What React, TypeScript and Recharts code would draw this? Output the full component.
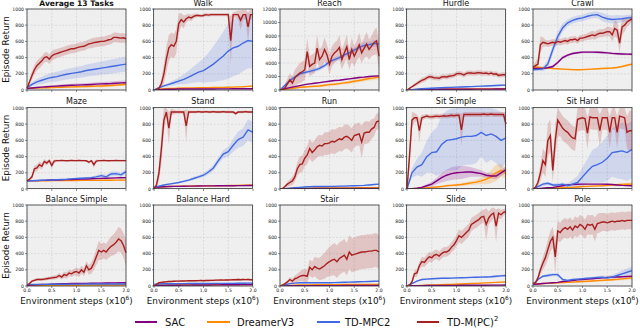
import React from 'react';
import { ComposedChart, Line, Area, XAxis, YAxis, CartesianGrid } from 'recharts';

// ---------- x values ----------
const X_FINE = [0, 0.05, 0.1, 0.15, 0.2, 0.25, 0.3, 0.35, 0.4, 0.45, 0.5, 0.55, 0.6, 0.65, 0.7, 0.75, 0.8, 0.85, 0.9, 0.95, 1.0,
  1.05, 1.1, 1.15, 1.2, 1.25, 1.3, 1.35, 1.4, 1.45, 1.5, 1.55, 1.6, 1.65, 1.7, 1.75, 1.8, 1.85, 1.9, 1.95, 2.0];
const X_TICKS = [0, 0.5, 1, 1.5, 2];
const Y_TICKS_1K = [0, 200, 400, 600, 800, 1000];
const Y_TICKS_12K = [0, 2000, 4000, 6000, 8000, 10000, 12000];

const SERIES_NAMES = ['SAC', 'DreamerV3', 'TD-MPC2', 'TD-M(PC)'];
const TITLES = ['Average 13 Tasks', 'Walk', 'Reach', 'Hurdle', 'Crawl', 'Maze', 'Stand', 'Run', 'Sit Simple', 'Sit Hard',
  'Balance Simple', 'Balance Hard', 'Stair', 'Slide', 'Pole'];

const THIN_BAND = [0, 3, 4, 5, 5, 5, 5, 5, 5, 5, 6, 6, 6, 6, 6, 6, 6, 7, 7, 7, 7];

// ---------- Average 13 Tasks ----------
const avgRed = [20, 100, 180, 250, 300, 330, 360, 400, 410, 380, 420, 440, 450, 460, 470, 480, 490, 500, 510, 510, 520, 530, 535, 540, 555, 570, 575, 585, 590, 595, 600, 600, 610, 620, 625, 650, 650, 645, 640, 645, 630];
const avgRedBand = [10, 30, 50, 60, 60, 60, 60, 60, 60, 60, 60, 60, 55, 55, 55, 55, 55, 55, 55, 55, 55, 55, 55, 55, 55, 55, 60, 60, 60, 60, 60, 60, 60, 60, 60, 60, 60, 60, 60, 60, 60];
const avgBlue = [30, 70, 100, 120, 140, 155, 165, 180, 195, 205, 215, 225, 240, 250, 260, 270, 280, 290, 300, 310, 320];
const avgBlueBand = [10, 25, 35, 45, 50, 55, 60, 62, 65, 68, 70, 72, 75, 78, 80, 82, 85, 88, 90, 92, 95];
const avgSac = [20, 25, 30, 35, 40, 45, 48, 52, 55, 58, 60, 63, 65, 68, 72, 75, 78, 80, 84, 88, 90];
const avgSacBand = [5, 8, 10, 12, 14, 15, 16, 17, 18, 19, 20, 20, 21, 22, 23, 24, 25, 25, 26, 27, 28];
const avgDreamer = [20, 22, 24, 26, 28, 30, 32, 34, 36, 38, 40, 42, 44, 46, 48, 50, 53, 56, 60, 65, 70];
const avgDreamerBand = [5, 6, 7, 8, 9, 10, 10, 11, 11, 12, 12, 13, 13, 14, 14, 15, 15, 16, 16, 17, 18];

// ---------- Walk ----------
const walkRed = [0, 5, 20, 80, 200, 380, 520, 560, 540, 600, 820, 870, 840, 880, 900, 890, 910, 920, 920, 915, 920, 930, 925, 930, 930, 930, 930, 930, 930, 930, 930, 610, 930, 930, 930, 860, 930, 930, 780, 930, 930];
const walkRedBand = [0, 5, 20, 60, 120, 160, 160, 150, 150, 150, 120, 80, 80, 50, 40, 40, 30, 25, 20, 20, 20, 20, 20, 20, 20, 20, 20, 20, 20, 20, 20, 300, 30, 40, 50, 120, 60, 60, 180, 60, 60];
const walkBlue = [0, 30, 50, 70, 90, 110, 130, 160, 190, 220, 240, 280, 320, 370, 420, 480, 520, 540, 580, 610, 600];
const walkBlueBand = [0, 10, 15, 20, 30, 40, 60, 80, 100, 120, 150, 180, 220, 260, 300, 340, 350, 350, 350, 340, 330];
const walkSac = [0, 5, 8, 10, 10, 12, 12, 12, 12, 12, 13, 13, 13, 14, 14, 14, 15, 15, 15, 15, 15];
const walkDreamer = [0, 10, 15, 18, 20, 22, 24, 25, 26, 27, 28, 28, 30, 30, 32, 34, 36, 38, 40, 45, 50];

// ---------- Reach ----------
const reachRed = [0, 100, 300, 900, 1500, 1000, 1800, 2200, 2500, 2700, 3000, 5700, 3500, 3800, 4000, 6200, 4500, 5000, 6000, 5200, 3800, 5000, 5500, 5800, 6300, 4500, 5500, 6400, 4500, 6000, 5000, 5800, 6700, 5500, 6200, 6800, 6000, 6500, 7000, 7300, 5000];
const reachRedBand = [0, 200, 500, 800, 1000, 1000, 1200, 1300, 1500, 1500, 1500, 2000, 1500, 1500, 1500, 2000, 1500, 1500, 1800, 1500, 1500, 1500, 1500, 1500, 1800, 1500, 1500, 1800, 1500, 1800, 1500, 1500, 1800, 1500, 1500, 1800, 1500, 1500, 1800, 2000, 2000];
const reachBlue = [0, 700, 1400, 1900, 2400, 2600, 2750, 2950, 3200, 3600, 4200, 4500, 4800, 5200, 5500, 5900, 6300, 6600, 6700, 6900, 6800];
const reachBlueBand = [0, 200, 300, 300, 300, 300, 300, 300, 300, 300, 300, 300, 300, 300, 400, 400, 400, 500, 500, 500, 500];
const reachSac = [0, 200, 350, 500, 650, 800, 900, 1000, 1100, 1200, 1300, 1400, 1450, 1550, 1650, 1750, 1850, 1900, 2000, 2050, 2100];
const reachSacBand = [0, 50, 60, 70, 80, 90, 100, 100, 100, 100, 100, 100, 100, 100, 100, 100, 100, 100, 100, 100, 100];
const reachDreamer = [0, 100, 200, 300, 400, 450, 500, 550, 600, 700, 800, 850, 950, 1050, 1150, 1300, 1400, 1550, 1700, 1800, 1900];
const reachDreamerBand = [0, 100, 100, 150, 150, 150, 150, 150, 200, 200, 200, 200, 200, 200, 250, 250, 250, 300, 300, 300, 350];

// ---------- Hurdle ----------
const hurdleRed = [0, 20, 40, 60, 80, 100, 120, 130, 150, 165, 160, 150, 150, 145, 160, 165, 160, 170, 175, 180, 200, 205, 200, 185, 205, 210, 210, 205, 210, 215, 210, 205, 210, 200, 210, 195, 200, 180, 185, 190, 185];
const hurdleRedBand = [0, 10, 15, 20, 25, 25, 30, 30, 30, 30, 30, 30, 30, 30, 30, 30, 30, 30, 30, 30, 30, 30, 30, 30, 30, 30, 30, 30, 30, 30, 30, 30, 30, 30, 30, 30, 30, 30, 30, 30, 30];
const hurdleBlue = [0, 5, 10, 15, 18, 22, 25, 27, 30, 32, 35, 37, 40, 42, 45, 48, 50, 52, 55, 58, 60];
const hurdleBlueBand = [0, 3, 4, 5, 6, 6, 7, 7, 8, 8, 8, 8, 8, 8, 9, 9, 9, 10, 10, 10, 10];
const hurdleSac = [0, 3, 5, 6, 7, 8, 8, 9, 9, 10, 10, 10, 10, 10, 11, 11, 11, 11, 12, 12, 12];
const hurdleDreamer = [0, 5, 8, 10, 10, 11, 11, 12, 12, 12, 12, 13, 13, 13, 13, 14, 14, 14, 15, 15, 15];

// ---------- Crawl ----------
const crawlRed = [280, 300, 320, 560, 590, 580, 570, 580, 590, 580, 600, 590, 600, 610, 600, 620, 620, 630, 610, 640, 640, 650, 660, 670, 680, 670, 690, 700, 700, 710, 720, 720, 680, 760, 740, 580, 780, 800, 840, 860, 880];
const crawlRedBand = [20, 50, 80, 100, 60, 40, 40, 40, 40, 40, 40, 40, 40, 40, 40, 40, 40, 40, 40, 40, 40, 40, 40, 50, 50, 50, 50, 50, 50, 50, 60, 60, 80, 100, 100, 120, 100, 80, 60, 50, 40];
const crawlBlue = [250, 255, 260, 320, 500, 660, 770, 830, 860, 880, 890, 910, 925, 930, 900, 880, 870, 875, 880, 890, 890];
const crawlBlueBand = [20, 20, 30, 50, 60, 60, 50, 40, 40, 40, 40, 40, 40, 40, 50, 50, 50, 50, 40, 40, 40];
const crawlSac = [265, 265, 268, 275, 290, 340, 400, 430, 450, 460, 467, 468, 468, 466, 463, 458, 452, 448, 445, 443, 442];
const crawlSacBand = [15, 15, 15, 15, 20, 20, 20, 15, 15, 15, 15, 15, 15, 15, 15, 15, 15, 15, 15, 15, 15];
const crawlDreamer = [285, 280, 275, 270, 265, 262, 258, 255, 252, 250, 252, 255, 258, 262, 265, 268, 272, 278, 290, 305, 320];
const crawlDreamerBand = [10, 10, 10, 10, 10, 10, 10, 10, 10, 10, 10, 10, 10, 10, 10, 10, 12, 12, 12, 15, 15];

// ---------- Maze ----------
const mazeRed = [100, 120, 150, 250, 260, 300, 280, 340, 320, 350, 290, 345, 350, 350, 352, 350, 348, 350, 352, 350, 350, 352, 350, 350, 348, 330, 350, 300, 345, 350, 350, 352, 350, 348, 350, 350, 352, 350, 350, 350, 350];
const mazeRedBand = [5, 15, 30, 40, 40, 40, 40, 30, 30, 20, 40, 20, 15, 10, 10, 10, 10, 10, 10, 10, 10, 10, 10, 10, 10, 20, 10, 40, 20, 10, 10, 10, 10, 10, 10, 10, 10, 10, 10, 10, 10];
const mazeBlue = [100, 102, 105, 108, 110, 112, 115, 118, 120, 125, 130, 133, 136, 140, 150, 165, 150, 185, 190, 175, 215];
const mazeBlueBand = [2, 3, 3, 4, 4, 5, 5, 6, 6, 7, 8, 10, 12, 14, 20, 25, 25, 30, 30, 30, 30];
const mazeSac = [100, 103, 104, 107, 108, 111, 112, 115, 116, 118, 121, 122, 124, 127, 128, 131, 132, 134, 137, 138, 140];
const mazeDreamer = [100, 100, 101, 101, 102, 103, 103, 104, 104, 105, 105, 106, 106, 107, 107, 108, 108, 108, 109, 109, 110];

// ---------- Stand ----------
const standRed = [0, 50, 200, 500, 850, 950, 750, 950, 950, 950, 950, 950, 950, 780, 950, 950, 950, 950, 955, 950, 950, 955, 950, 950, 955, 950, 950, 950, 955, 950, 950, 950, 950, 930, 950, 950, 950, 955, 950, 950, 950];
const standRedBand = [0, 30, 100, 200, 150, 60, 200, 40, 30, 20, 20, 20, 20, 200, 20, 15, 15, 15, 15, 15, 15, 15, 15, 15, 15, 15, 15, 15, 15, 15, 15, 15, 15, 20, 15, 15, 15, 15, 15, 15, 15];
const standBlue = [20, 35, 50, 60, 70, 80, 95, 110, 130, 150, 170, 210, 260, 350, 430, 460, 540, 610, 640, 730, 700];
const standBlueBand = [5, 8, 10, 10, 10, 10, 12, 15, 20, 20, 25, 30, 35, 40, 50, 60, 80, 100, 110, 130, 130];
const standSac = [20, 25, 28, 30, 32, 33, 34, 35, 36, 37, 38, 38, 39, 40, 40, 41, 41, 42, 42, 43, 43];
const standDreamer = [20, 25, 28, 30, 32, 34, 35, 36, 37, 38, 38, 39, 40, 41, 42, 43, 44, 45, 46, 48, 50];

// ---------- Run ----------
const runRed = [0, 5, 30, 60, 80, 100, 150, 250, 300, 310, 380, 420, 500, 450, 480, 520, 540, 530, 560, 560, 570, 590, 580, 600, 620, 610, 640, 650, 630, 600, 660, 670, 680, 580, 690, 700, 700, 740, 760, 830, 840];
const runRedBand = [0, 5, 20, 30, 40, 50, 60, 80, 100, 100, 100, 110, 120, 120, 120, 130, 130, 130, 140, 140, 140, 150, 150, 150, 150, 150, 150, 150, 150, 150, 140, 140, 140, 200, 140, 140, 130, 120, 110, 100, 100];
const runBlue = [0, 5, 10, 15, 20, 25, 28, 30, 30, 30, 32, 33, 35, 36, 38, 40, 42, 45, 50, 55, 60];
const runSac = [0, 2, 3, 4, 5, 5, 5, 6, 6, 6, 6, 7, 7, 7, 7, 8, 8, 8, 8, 8, 8];
const runDreamer = [0, 5, 8, 10, 10, 11, 11, 12, 12, 12, 13, 13, 13, 14, 14, 14, 15, 15, 15, 16, 16];

// ---------- Sit Simple ----------
const sitSimpleRed = [0, 400, 850, 880, 880, 720, 880, 890, 900, 890, 890, 895, 900, 895, 900, 905, 900, 905, 910, 905, 910, 910, 730, 920, 920, 920, 920, 920, 920, 920, 920, 925, 920, 920, 925, 920, 920, 920, 920, 920, 800];
const sitSimpleRedBand = [0, 150, 100, 60, 40, 150, 40, 30, 30, 30, 30, 30, 30, 30, 30, 30, 30, 30, 30, 30, 30, 30, 200, 30, 30, 30, 30, 30, 30, 30, 30, 30, 30, 30, 30, 30, 30, 30, 30, 30, 150];
const sitSimpleBlue = [0, 200, 270, 300, 400, 450, 460, 550, 600, 610, 620, 640, 650, 650, 660, 700, 660, 680, 650, 600, 630];
const sitSimpleBlueBand = [0, 60, 100, 150, 200, 250, 300, 350, 370, 380, 390, 360, 350, 350, 340, 300, 340, 320, 330, 350, 300];
const sitSimpleSac = [0, 5, 10, 20, 40, 60, 100, 140, 170, 190, 200, 205, 210, 210, 200, 190, 170, 160, 160, 200, 240];
const sitSimpleSacBand = [0, 5, 10, 15, 20, 30, 40, 60, 70, 80, 80, 80, 70, 60, 50, 40, 30, 30, 40, 40, 40];
const sitSimpleDreamer = [0, 5, 8, 12, 15, 20, 25, 30, 40, 45, 50, 55, 65, 75, 85, 100, 120, 150, 200, 230, 190];
const sitSimpleDreamerBand = [0, 3, 5, 5, 5, 8, 10, 10, 12, 15, 15, 18, 20, 25, 30, 40, 60, 80, 100, 80, 60];

// ---------- Sit Hard ----------
const sitHardRed = [0, 20, 80, 200, 350, 300, 600, 660, 230, 600, 850, 800, 750, 720, 700, 660, 630, 620, 860, 870, 880, 870, 690, 890, 880, 880, 880, 720, 880, 880, 880, 700, 880, 880, 700, 900, 890, 880, 700, 720, 720];
const sitHardRedBand = [0, 20, 50, 100, 150, 150, 200, 200, 150, 200, 200, 150, 150, 150, 150, 150, 150, 150, 150, 150, 150, 150, 200, 150, 150, 150, 150, 200, 150, 150, 150, 200, 150, 150, 200, 150, 150, 150, 200, 250, 250];
const sitHardBlue = [0, 30, 60, 70, 50, 50, 60, 40, 60, 80, 150, 220, 280, 300, 330, 380, 450, 460, 470, 450, 490];
const sitHardBlueBand = [0, 10, 20, 20, 20, 20, 20, 30, 50, 80, 120, 150, 200, 220, 250, 280, 300, 330, 350, 350, 350];
const sitHardSac = [0, 5, 10, 15, 20, 30, 40, 50, 55, 58, 60, 60, 60, 60, 60, 58, 55, 50, 45, 42, 40];
const sitHardDreamer = [0, 3, 5, 8, 10, 12, 15, 18, 20, 25, 30, 32, 35, 38, 40, 45, 50, 52, 55, 58, 60];
const sitHardDreamerBand = [0, 2, 3, 4, 5, 5, 6, 6, 7, 8, 8, 9, 10, 10, 12, 12, 14, 15, 16, 18, 20];

// ---------- Balance Simple ----------
const balSimpleRed = [0, 30, 60, 70, 80, 80, 80, 85, 90, 95, 100, 105, 110, 130, 110, 140, 130, 160, 150, 170, 180, 160, 200, 170, 250, 200, 220, 280, 360, 440, 420, 440, 420, 460, 490, 510, 540, 580, 560, 500, 410];
const balSimpleRedBand = [0, 10, 15, 15, 15, 15, 15, 20, 20, 20, 20, 25, 25, 30, 30, 40, 40, 40, 40, 40, 50, 50, 50, 50, 60, 60, 70, 80, 100, 120, 100, 100, 100, 110, 120, 130, 140, 150, 150, 150, 160];
const balSimpleBlue = [20, 20, 20, 20, 20, 22, 22, 22, 22, 23, 23, 23, 24, 24, 24, 25, 25, 25, 25, 25, 25];
const balSimpleSac = [10, 12, 15, 18, 20, 22, 25, 27, 28, 30, 30, 32, 33, 34, 35, 36, 37, 38, 39, 40, 40];
const balSimpleDreamer = [5, 6, 7, 8, 8, 9, 9, 10, 10, 10, 10, 11, 11, 11, 12, 12, 12, 13, 13, 13, 13];

// ---------- Balance Hard ----------
const balHardRed = [0, 20, 40, 45, 50, 52, 55, 56, 58, 60, 60, 62, 62, 63, 64, 64, 65, 65, 66, 67, 65, 68, 68, 70, 70, 72, 72, 74, 73, 75, 75, 76, 78, 77, 80, 78, 80, 79, 80, 78, 75];
const balHardRedBand = [0, 5, 8, 10, 10, 10, 10, 10, 10, 10, 10, 10, 10, 10, 10, 10, 10, 10, 10, 10, 10, 10, 10, 10, 12, 12, 12, 12, 12, 12, 12, 12, 12, 12, 12, 12, 12, 12, 12, 12, 12];
const balHardBlue = [20, 25, 27, 28, 28, 29, 29, 30, 30, 30, 31, 31, 32, 32, 32, 33, 33, 34, 34, 35, 35];
const balHardSac = [5, 7, 8, 9, 10, 10, 11, 11, 12, 12, 13, 13, 14, 14, 15, 15, 16, 16, 17, 17, 18];
const balHardDreamer = [10, 12, 13, 14, 14, 15, 15, 15, 15, 16, 16, 16, 16, 17, 17, 17, 17, 18, 18, 18, 18];

// ---------- Stair ----------
const stairRed = [0, 10, 30, 50, 80, 60, 90, 100, 120, 130, 130, 120, 230, 200, 240, 220, 210, 230, 250, 280, 300, 320, 330, 300, 340, 360, 380, 330, 420, 380, 390, 400, 410, 420, 420, 425, 430, 430, 440, 440, 420];
const stairRedBand = [0, 5, 10, 20, 30, 30, 40, 50, 60, 70, 80, 80, 100, 100, 120, 130, 140, 150, 160, 170, 180, 190, 200, 200, 200, 200, 200, 200, 210, 210, 210, 210, 210, 210, 210, 210, 210, 210, 210, 210, 210];
const stairBlue = [0, 15, 30, 35, 40, 40, 40, 40, 40, 40, 40, 42, 44, 46, 48, 50, 52, 54, 56, 58, 60];
const stairSac = [0, 2, 3, 3, 4, 4, 4, 5, 5, 5, 5, 5, 5, 6, 6, 6, 6, 6, 6, 6, 6];
const stairDreamer = [0, 5, 8, 10, 12, 13, 14, 15, 15, 16, 16, 17, 17, 18, 18, 19, 19, 20, 20, 20, 20];

// ---------- Slide ----------
const slideRed = [0, 10, 50, 150, 160, 250, 300, 290, 330, 360, 350, 380, 390, 370, 400, 420, 420, 440, 480, 510, 560, 620, 600, 630, 660, 690, 760, 780, 800, 820, 850, 860, 760, 840, 880, 900, 740, 900, 880, 910, 920];
const slideRedBand = [0, 10, 30, 40, 50, 50, 60, 60, 60, 60, 60, 60, 60, 60, 60, 60, 60, 60, 60, 70, 70, 80, 80, 80, 80, 80, 80, 80, 80, 80, 80, 80, 200, 80, 80, 70, 200, 60, 60, 40, 40];
const slideBlue = [0, 30, 60, 80, 85, 90, 92, 95, 95, 97, 100, 102, 104, 106, 108, 110, 112, 115, 120, 125, 130];
const slideBlueBand = [0, 5, 8, 10, 10, 10, 10, 10, 10, 10, 10, 10, 10, 10, 12, 12, 12, 12, 14, 14, 15];
const slideSac = [0, 3, 5, 5, 6, 6, 7, 7, 8, 8, 8, 9, 9, 9, 10, 10, 10, 11, 11, 11, 12];
const slideDreamer = [0, 3, 5, 8, 10, 12, 14, 16, 18, 20, 22, 24, 27, 30, 33, 36, 39, 42, 45, 48, 50];

// ---------- Pole ----------
const poleRed = [30, 40, 100, 200, 280, 350, 450, 550, 600, 360, 680, 660, 700, 720, 700, 730, 690, 740, 720, 760, 740, 700, 760, 750, 760, 700, 770, 780, 790, 790, 780, 790, 800, 790, 800, 800, 810, 800, 810, 810, 810];
const poleRedBand = [10, 20, 40, 60, 80, 100, 120, 130, 130, 200, 120, 120, 120, 120, 120, 120, 120, 120, 120, 120, 120, 120, 120, 120, 120, 150, 120, 120, 110, 110, 110, 110, 110, 110, 110, 110, 110, 110, 110, 110, 110];
const poleBlue = [20, 80, 120, 130, 140, 140, 80, 70, 80, 85, 90, 95, 100, 105, 110, 100, 110, 130, 150, 170, 190];
const poleBlueBand = [5, 10, 15, 20, 20, 20, 15, 10, 10, 10, 10, 12, 14, 16, 20, 25, 30, 35, 40, 45, 50];
const poleSac = [20, 25, 30, 35, 40, 45, 55, 60, 68, 75, 80, 85, 90, 95, 100, 105, 110, 112, 115, 118, 120];
const poleDreamer = [20, 25, 30, 33, 36, 40, 42, 45, 48, 52, 55, 58, 62, 66, 70, 74, 78, 82, 88, 94, 100];
const poleDreamerBand = [3, 4, 5, 6, 6, 7, 8, 8, 9, 10, 10, 11, 12, 13, 14, 15, 16, 17, 18, 19, 20];

// ---------- styling / layout ----------
const FONT = '"DejaVu Sans", Verdana, sans-serif';
const C_SAC = '#800080';
const C_DRM = '#ff8c00';
const C_TDM = '#4169e1';
const C_OURS = '#a81f1f';
const COLORS = [C_SAC, C_DRM, C_TDM, C_OURS];

const COL_LEFT = [27, 153.5, 280, 406.5, 533];
const ROW_TOP = [9, 107.5, 205];
const PW = 99;
const PH = 81;
const YW = 26;
const MT = 5;
const MR = 6;

type Panel = {
  ymax: number; yTicks: number[];
  red: number[]; redBand: number[];
  blue: number[]; blueBand: number[];
  sac: number[]; sacBand: number[];
  dreamer: number[]; dreamerBand: number[];
};

const K = Y_TICKS_1K;
const PANELS: Panel[] = [
  { ymax: 1000, yTicks: K, red: avgRed, redBand: avgRedBand, blue: avgBlue, blueBand: avgBlueBand, sac: avgSac, sacBand: avgSacBand, dreamer: avgDreamer, dreamerBand: avgDreamerBand },
  { ymax: 1000, yTicks: K, red: walkRed, redBand: walkRedBand, blue: walkBlue, blueBand: walkBlueBand, sac: walkSac, sacBand: THIN_BAND, dreamer: walkDreamer, dreamerBand: THIN_BAND },
  { ymax: 12000, yTicks: Y_TICKS_12K, red: reachRed, redBand: reachRedBand, blue: reachBlue, blueBand: reachBlueBand, sac: reachSac, sacBand: reachSacBand, dreamer: reachDreamer, dreamerBand: reachDreamerBand },
  { ymax: 1000, yTicks: K, red: hurdleRed, redBand: hurdleRedBand, blue: hurdleBlue, blueBand: hurdleBlueBand, sac: hurdleSac, sacBand: THIN_BAND, dreamer: hurdleDreamer, dreamerBand: THIN_BAND },
  { ymax: 1000, yTicks: K, red: crawlRed, redBand: crawlRedBand, blue: crawlBlue, blueBand: crawlBlueBand, sac: crawlSac, sacBand: crawlSacBand, dreamer: crawlDreamer, dreamerBand: crawlDreamerBand },
  { ymax: 1000, yTicks: K, red: mazeRed, redBand: mazeRedBand, blue: mazeBlue, blueBand: mazeBlueBand, sac: mazeSac, sacBand: THIN_BAND, dreamer: mazeDreamer, dreamerBand: THIN_BAND },
  { ymax: 1000, yTicks: K, red: standRed, redBand: standRedBand, blue: standBlue, blueBand: standBlueBand, sac: standSac, sacBand: THIN_BAND, dreamer: standDreamer, dreamerBand: THIN_BAND },
  { ymax: 1000, yTicks: K, red: runRed, redBand: runRedBand, blue: runBlue, blueBand: THIN_BAND, sac: runSac, sacBand: THIN_BAND, dreamer: runDreamer, dreamerBand: THIN_BAND },
  { ymax: 1000, yTicks: K, red: sitSimpleRed, redBand: sitSimpleRedBand, blue: sitSimpleBlue, blueBand: sitSimpleBlueBand, sac: sitSimpleSac, sacBand: sitSimpleSacBand, dreamer: sitSimpleDreamer, dreamerBand: sitSimpleDreamerBand },
  { ymax: 1000, yTicks: K, red: sitHardRed, redBand: sitHardRedBand, blue: sitHardBlue, blueBand: sitHardBlueBand, sac: sitHardSac, sacBand: THIN_BAND, dreamer: sitHardDreamer, dreamerBand: sitHardDreamerBand },
  { ymax: 1000, yTicks: K, red: balSimpleRed, redBand: balSimpleRedBand, blue: balSimpleBlue, blueBand: THIN_BAND, sac: balSimpleSac, sacBand: THIN_BAND, dreamer: balSimpleDreamer, dreamerBand: THIN_BAND },
  { ymax: 1000, yTicks: K, red: balHardRed, redBand: balHardRedBand, blue: balHardBlue, blueBand: THIN_BAND, sac: balHardSac, sacBand: THIN_BAND, dreamer: balHardDreamer, dreamerBand: THIN_BAND },
  { ymax: 1000, yTicks: K, red: stairRed, redBand: stairRedBand, blue: stairBlue, blueBand: THIN_BAND, sac: stairSac, sacBand: THIN_BAND, dreamer: stairDreamer, dreamerBand: THIN_BAND },
  { ymax: 1000, yTicks: K, red: slideRed, redBand: slideRedBand, blue: slideBlue, blueBand: slideBlueBand, sac: slideSac, sacBand: THIN_BAND, dreamer: slideDreamer, dreamerBand: THIN_BAND },
  { ymax: 1000, yTicks: K, red: poleRed, redBand: poleRedBand, blue: poleBlue, blueBand: poleBlueBand, sac: poleSac, sacBand: THIN_BAND, dreamer: poleDreamer, dreamerBand: poleDreamerBand },
];

function buildRows(p: Panel) {
  const lo = (v: number, h: number) => Math.max(0, v - h);
  const hi = (v: number, h: number) => Math.min(p.ymax, v + h);
  return X_FINE.map((x, i) => {
    const row: Record<string, unknown> = { x };
    row.r = p.red[i];
    row.rb = [lo(p.red[i], p.redBand[i]), hi(p.red[i], p.redBand[i])];
    if (i % 2 === 0) {
      const j = i / 2;
      row.b = p.blue[j];
      row.bb = [lo(p.blue[j], p.blueBand[j]), hi(p.blue[j], p.blueBand[j])];
      row.s = p.sac[j];
      row.sb = [lo(p.sac[j], p.sacBand[j]), hi(p.sac[j], p.sacBand[j])];
      row.d = p.dreamer[j];
      row.db = [lo(p.dreamer[j], p.dreamerBand[j]), hi(p.dreamer[j], p.dreamerBand[j])];
    }
    return row;
  });
}

const tickStyle = { fontSize: 4.6, fill: '#222', fontFamily: FONT };

function PanelChart({ p, idx }: { p: Panel; idx: number }) {
  const col = idx % 5;
  const row = Math.floor(idx / 5);
  const L = COL_LEFT[col];
  const T = ROW_TOP[row];
  const bottom = row === 2;
  const XH = bottom ? 10 : 4;
  const W = YW + PW + MR;
  const H = MT + PH + XH;
  const rows = buildRows(p);
  return (
    <div style={{ position: 'absolute', left: L - YW, top: T - MT, width: W, height: H }}>
      <ComposedChart width={W} height={H} data={rows} margin={{ top: MT, right: MR, bottom: 0, left: 0 }}>
        <CartesianGrid fill="#efefef" stroke="#cdcdcd" strokeDasharray="2 1.5" strokeWidth={0.6} />
        <XAxis dataKey="x" type="number" domain={[0, 2]} ticks={X_TICKS} interval={0} height={XH}
          axisLine={false} tickSize={2} tickMargin={1} tick={tickStyle}
          tickLine={{ stroke: '#444', strokeWidth: 0.6 }}
          tickFormatter={(v: number) => (bottom ? Number(v).toFixed(1) : '')} />
        <YAxis type="number" domain={[0, p.ymax]} ticks={p.yTicks} interval={0} width={YW} allowDataOverflow
          axisLine={false} tickSize={2} tickMargin={1} tick={tickStyle}
          tickLine={{ stroke: '#444', strokeWidth: 0.6 }} />
        <Area dataKey="db" stroke="none" fill={C_DRM} fillOpacity={0.22} connectNulls isAnimationActive={false} />
        <Area dataKey="sb" stroke="none" fill={C_SAC} fillOpacity={0.2} connectNulls isAnimationActive={false} />
        <Area dataKey="bb" stroke="none" fill={C_TDM} fillOpacity={0.18} connectNulls isAnimationActive={false} />
        <Area dataKey="rb" stroke="none" fill={C_OURS} fillOpacity={0.2} connectNulls isAnimationActive={false} />
        <Line dataKey="d" stroke={C_DRM} strokeWidth={1.4} dot={false} connectNulls isAnimationActive={false} />
        <Line dataKey="s" stroke={C_SAC} strokeWidth={1.4} dot={false} connectNulls isAnimationActive={false} />
        <Line dataKey="b" stroke={C_TDM} strokeWidth={1.4} dot={false} connectNulls isAnimationActive={false} />
        <Line dataKey="r" stroke={C_OURS} strokeWidth={1.4} dot={false} connectNulls isAnimationActive={false} />
      </ComposedChart>
    </div>
  );
}

const LEGEND_POS = [
  { x1: 135, x2: 157, tx: 165 },
  { x1: 207, x2: 230, tx: 237 },
  { x1: 317, x2: 340, tx: 345 },
  { x1: 417, x2: 439, tx: 447 },
];

function Overlay() {
  return (
    <svg width={640} height={328} style={{ position: 'absolute', left: 0, top: 0, pointerEvents: 'none' }}
      fontFamily={FONT}>
      {PANELS.map((_, idx) => {
        const col = idx % 5;
        const row = Math.floor(idx / 5);
        const L = COL_LEFT[col];
        const T = ROW_TOP[row];
        return (
          <g key={idx}>
            <rect x={L} y={T} width={PW} height={PH} fill="none" stroke="#3a3a3a" strokeWidth={0.8} />
            <text x={L + PW / 2} y={T - 5.8} textAnchor="middle" dominantBaseline="central"
              fontSize={idx === 0 ? 7.6 : 8} fontWeight={idx === 0 ? 'bold' : 'normal'} fill="#111">
              {TITLES[idx]}
            </text>
          </g>
        );
      })}
      {ROW_TOP.map((T, r) => (
        <text key={'yl' + r} x={5.5} y={T + PH / 2} textAnchor="middle" dominantBaseline="central" fontSize={8.8}
          fill="#111" transform={`rotate(-90, 5.5, ${T + PH / 2})`}>Episode Return</text>
      ))}
      {COL_LEFT.map((L, c) => (
        <text key={'xl' + c} x={L + PW / 2} y={303.5} textAnchor="middle" fontSize={8.8} fill="#111">
          Environment steps (x10<tspan fontSize={5.8} dy={-3.5}>6</tspan><tspan dy={3.5}>)</tspan>
        </text>
      ))}
      {LEGEND_POS.map((lp, i) => (
        <g key={'lg' + i}>
          <line x1={lp.x1} x2={lp.x2} y1={322} y2={322} stroke={COLORS[i]} strokeWidth={2} />
          <text x={lp.tx} y={325.5} fontSize={10} fill="#111">
            {SERIES_NAMES[i]}
            {i === 3 ? <tspan fontSize={6.8} dy={-4.5}>2</tspan> : null}
          </text>
        </g>
      ))}
    </svg>
  );
}

export default function App() {
  return (
    <div style={{ position: 'absolute', left: 0, top: 0, width: 640, height: 328, background: '#fff', overflow: 'hidden' }}>
      {PANELS.map((p, i) => <PanelChart key={i} p={p} idx={i} />)}
      <Overlay />
    </div>
  );
}
